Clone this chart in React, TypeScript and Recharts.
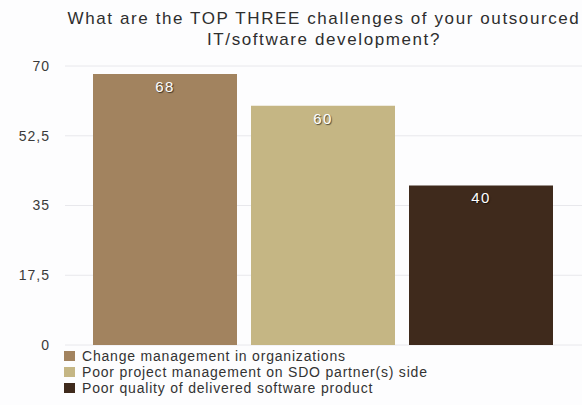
import React from 'react';
import { BarChart, Bar, XAxis, YAxis, CartesianGrid, LabelList } from 'recharts';

const titleLines = ['What are the TOP THREE challenges of your outsourced', 'IT/software development?'];
const seriesNames = [
  'Change management in organizations',
  'Poor project management on SDO partner(s) side',
  'Poor quality of delivered software product',
];
const seriesValues = [68, 60, 40];
const seriesColors = ['#a2835f', '#c5b684', '#3f2a1c'];
const yTicks = [0, 17.5, 35, 52.5, 70];

const data = [
  {
    name: 'all',
    s0: seriesValues[0],
    s1: seriesValues[1],
    s2: seriesValues[2],
  },
];

const font = 'Liberation Sans, Arial, Helvetica, sans-serif';

export default function App() {
  return (
    <div style={{ position: 'absolute', left: 0, top: 0, width: 582, height: 405, overflow: 'hidden', background: '#fdfdfe', fontFamily: font }}>
      <div style={{ position: 'absolute', left: 24, width: 600, top: 8, textAlign: 'center', fontSize: 17, lineHeight: '21px', letterSpacing: 1.6, color: '#2e2e2e', whiteSpace: 'nowrap' }}>
        {titleLines.map((l) => (
          <div key={l}>{l}</div>
        ))}
      </div>
      <BarChart
        width={582}
        height={405}
        data={data}
        margin={{ top: 66, right: 0, left: 0, bottom: 60 }}
        barCategoryGap={28}
        barGap={14}
      >
        <CartesianGrid vertical={false} stroke="#e8e8ec" />
        <XAxis dataKey="name" tick={false} tickLine={false} height={0} axisLine={{ stroke: '#333', strokeWidth: 1.5 }} />
        <YAxis
          width={65}
          domain={[0, 70]}
          ticks={yTicks}
          axisLine={false}
          tickLine={false}
          tickMargin={9}
          tickFormatter={(v: number) => String(v).replace('.', ',')}
          tick={{ fill: '#3a3a3a', fontSize: 14, fontFamily: font, letterSpacing: 1 }}
        />
        {['s0', 's1', 's2'].map((k, i) => (
          <Bar key={k} dataKey={k} fill={seriesColors[i]} isAnimationActive={false}>
            <LabelList
              dataKey={k}
              position="insideTop"
              offset={7}
              fill="#fff"
              style={{ fontSize: 15, fontFamily: font, letterSpacing: 1.5, textShadow: '1px 1px 1px rgba(0,0,0,0.6)' }}
            />
          </Bar>
        ))}
      </BarChart>
      <div style={{ position: 'absolute', left: 64, top: 348, fontSize: 14, letterSpacing: 0.8, color: '#333', lineHeight: '16px', whiteSpace: 'nowrap' }}>
        {seriesNames.map((n, i) => (
          <div key={n} style={{ display: 'flex', alignItems: 'center' }}>
            <span style={{ display: 'inline-block', width: 11, height: 10, background: seriesColors[i], marginRight: 7 }} />
            <span>{n}</span>
          </div>
        ))}
      </div>
    </div>
  );
}
